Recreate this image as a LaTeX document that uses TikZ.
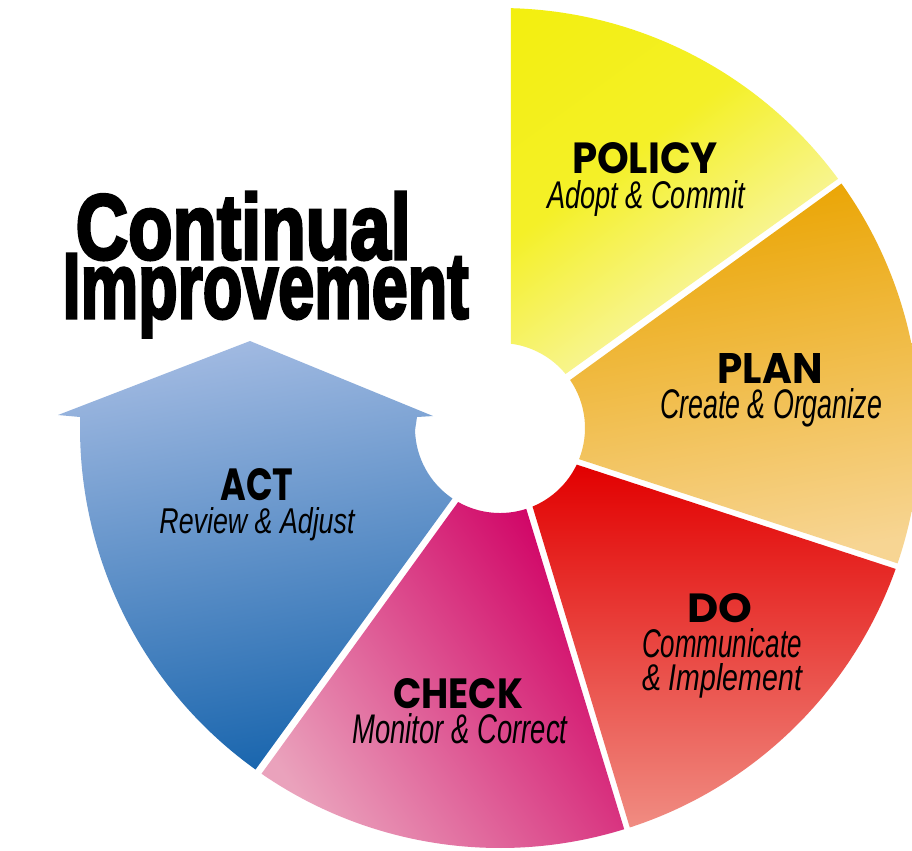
\documentclass[tikz,border=0pt]{standalone}
\usepackage{fontspec}
\usepackage{graphicx}
\usetikzlibrary{calc}
\newfontfamily\headfont{Poppins}
\newfontfamily\subfont{Liberation Sans}
\newfontfamily\titlefont{Liberation Sans}[BoldFeatures={FakeBold=3.5}]
\newlength\pxu
\setlength\pxu{0.01cm}
\newcommand\fitt[3]{\resizebox{#1\pxu}{#2\pxu}{#3}}
\definecolor{polA}{HTML}{F2EE00}
\definecolor{polB}{HTML}{F4F028}
\definecolor{polC}{HTML}{F9F6B4}
\definecolor{plnA}{HTML}{EAA400}
\definecolor{plnB}{HTML}{F7D593}
\definecolor{doA}{HTML}{E20000}
\definecolor{doB}{HTML}{F08C82}
\definecolor{chkA}{HTML}{D00064}
\definecolor{chkB}{HTML}{EAA2BC}
\definecolor{actA}{HTML}{A0B9E1}
\definecolor{actB}{HTML}{1A66AE}
\pgfdeclareverticalshading{polshade}{100bp}{color(0bp)=(polC); color(30bp)=(polC); color(58bp)=(polB); color(100bp)=(polA)}
\tikzset{
  polstyle/.style={shading=polshade, shading angle=36},
  plnstyle/.style={top color=plnA, bottom color=plnB, shading angle=10},
  dostyle/.style={top color=doA, bottom color=doB, shading angle=0},
  chkstyle/.style={top color=chkA, bottom color=chkB, shading angle=-55},
  actstyle/.style={top color=actA, bottom color=actB, shading angle=10},
  headlbl/.style={anchor=base, inner sep=0pt, font=\headfont\bfseries},
  sublbl/.style={anchor=base, inner sep=0pt, font=\subfont\itshape},
  titlelbl/.style={anchor=base west, inner sep=0pt, font=\titlefont\bfseries}
}
\begin{document}
\begin{tikzpicture}[x=0.01cm,y=-0.01cm]
\useasboundingbox (0,0) rectangle (912,850);
\fill[white] (0,0) rectangle (912,850);
\coordinate (C) at (500,428);
\def\Ro{420}
\def\Ri{85}
% POLICY
\shade[polstyle]
  ($(C)+(-82.6:\Ri)$) -- ($(C)+(-88.5:\Ro)$) arc[start angle=-88.5, end angle=-36.4, radius=\Ro]
  -- ($(C)+(-39.5:\Ri)$) arc[start angle=-39.5, end angle=-82.6, radius=\Ri] -- cycle;
% PLAN
\shade[plnstyle]
  ($(C)+(-34.4:\Ri)$) -- ($(C)+(-35.6:\Ro)$) arc[start angle=-35.6, end angle=18.8, radius=\Ro]
  -- ($(C)+(21.5:\Ri)$) arc[start angle=21.5, end angle=-34.4, radius=\Ri] -- cycle;
% DO
\shade[dostyle]
  ($(C)+(25.5:\Ri)$) -- ($(C)+(19.6:\Ro)$) arc[start angle=19.6, end angle=72.0, radius=\Ro]
  -- ($(C)+(67.5:\Ri)$) arc[start angle=67.5, end angle=25.5, radius=\Ri] -- cycle;
% CHECK
\shade[chkstyle]
  ($(C)+(72.0:\Ri)$) -- ($(C)+(72.8:\Ro)$) arc[start angle=72.8, end angle=124.6, radius=\Ro]
  -- ($(C)+(119.5:\Ri)$) arc[start angle=119.5, end angle=72.0, radius=\Ri] -- cycle;
% ACT (arrow)
\shade[actstyle]
  ($(C)+(124:\Ri)$) -- ($(C)+(125.6:\Ro)$) arc[start angle=125.6, end angle=181.5, radius=\Ro]
  -- (58,415) -- (250,341) -- (433,416) -- (417,417)
  -- ($(C)+(178.5:\Ri)$) arc[start angle=178.5, end angle=124, radius=\Ri] -- cycle;
% Title
\node[titlelbl] (t1) at (75,259) {\fitt{335}{67}{Continual}};
\node[titlelbl] (t2) at (62,318) {\fitt{406}{64}{Improvement}};
% Labels
\node[headlbl] (policy) at (645,173) {\fitt{146}{31}{POLICY}};
\node[sublbl] (policys) at (646,208) {\fitt{198}{28}{Adopt \& Commit}};
\node[headlbl] (plan) at (770,383) {\fitt{105}{30}{PLAN}};
\node[sublbl] (plans) at (771,418) {\fitt{222}{30}{Create \& Organize}};
\node[headlbl] (do) at (720,622) {\fitt{65}{29}{DO}};
\node[sublbl] (dos1) at (722,657) {\fitt{160}{29}{Communicate}};
\node[sublbl] (dos2) at (722,690) {\fitt{160}{27}{\& Implement}};
\node[headlbl] (check) at (458,708) {\fitt{130}{30}{CHECK}};
\node[sublbl] (checks) at (460,743) {\fitt{215}{30}{Monitor \& Correct}};
\node[headlbl] (act) at (257,500) {\fitt{73}{32}{ACT}};
\node[sublbl] (acts) at (257,533) {\fitt{195}{26}{Review \& Adjust}};
\end{tikzpicture}
\end{document}
